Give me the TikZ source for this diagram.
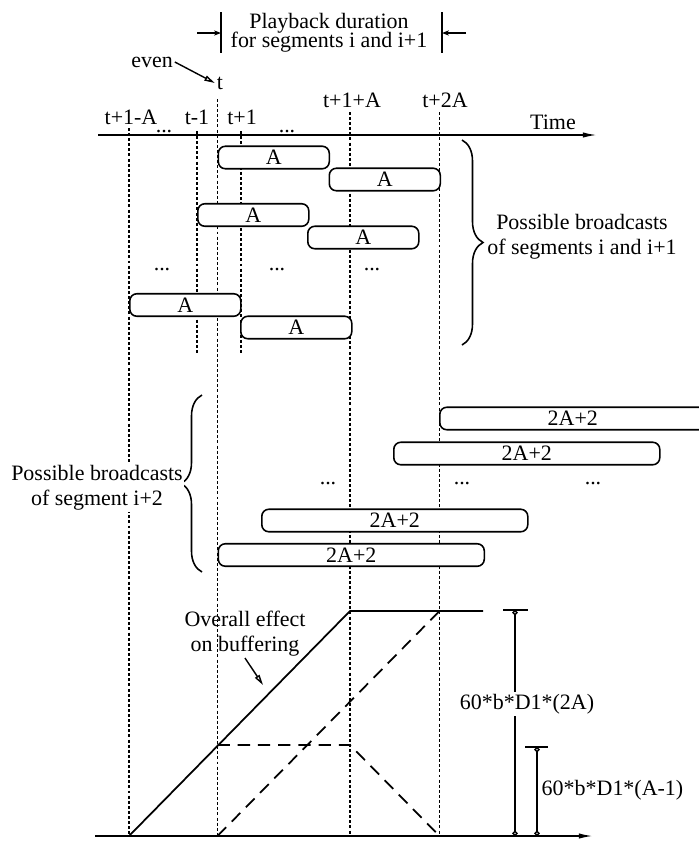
\documentclass[tikz,border=0pt]{standalone}
\usepackage{fontspec}
\setmainfont{Liberation Serif}
\usetikzlibrary{arrows.meta,decorations.pathreplacing}
\tikzset{
    seg/.style={draw, fill=white, rounded corners=4pt, line width=0.9pt,
                minimum height=0.45cm, minimum width=2.22cm, inner sep=0pt,
                anchor=west},
    longseg/.style={seg, minimum width=5.32cm},
    guide/.style={line width=0.9pt, dash pattern=on 1.7pt off 1.2pt},
    axis/.style={line width=0.9pt, -{Latex[length=8pt,width=3pt]}},
    level/.style={line width=1pt},
    partial/.style={level, dash pattern=on 7pt off 4.5pt},
    pointer/.style={line width=0.8pt, -{Triangle[open,length=6pt,width=3pt]}},
    bound/.style={line width=0.8pt, -{Stealth[length=4pt,width=3pt]}},
    dimline/.style={line width=0.8pt, {Circle[open,length=3pt]}-{Circle[open,length=3pt]}},
    note/.style={align=center, inner sep=1pt},
    brace/.style={decorate, line width=0.9pt,
                  decoration={brace, amplitude=0.42cm}},
}

\begin{document}
\begin{tikzpicture}[font=\fontsize{12.5}{14}\selectfont]
    \path[use as bounding box] (0,0) rectangle (13.98,-16.82);

    % playback window
    \node[note] (playback) at (6.58,-0.66) {Playback duration\\[-3pt]for segments i and i+1};
    \draw[line width=0.9pt] (4.42,-0.24) -- (4.42,-1.06);
    \draw[line width=0.9pt] (8.84,-0.24) -- (8.84,-1.06);
    \coordinate (pbl) at (4.42,-0.66);
    \coordinate (pbr) at (8.84,-0.66);
    \draw[bound] (3.94,-0.66) -- (pbl);
    \draw[bound] (9.32,-0.66) -- (pbr);

    % time axis and labels
    \coordinate (tstart) at (1.96,-2.70);
    \coordinate (tend) at (11.94,-2.70);
    \draw[axis] (tstart) -- (tend);
    \node (timelab) at (11.06,-2.44) {Time};
    \node[note] (even) at (3.04,-1.24) {even};
    \node[note] (tlab) at (4.40,-1.66) {t};
    \draw[pointer] (even.east) -- (tlab.west);
    \node (lab1) at (2.62,-2.34) {t+1-A};
    \node[anchor=base] (dots1) at (3.28,-2.64) {...};
    \node (lab2) at (3.94,-2.34) {t-1};
    \node (lab3) at (4.84,-2.34) {t+1};
    \node[anchor=base] (dots2) at (5.74,-2.64) {...};
    \node (lab4) at (7.04,-2.00) {t+1+A};
    \node (lab5) at (8.90,-2.00) {t+2A};

    % guide lines
    \draw[guide] (2.58,-2.56) -- (2.58,-16.72);
    \draw[guide] (3.94,-2.62) -- (3.94,-7.06);
    \draw[guide] (4.35,-1.98) -- (4.35,-16.72);
    \draw[guide] (4.82,-2.62) -- (4.82,-7.06);
    \draw[guide] (7.00,-2.24) -- (7.00,-16.72);
    \draw[guide] (8.79,-2.24) -- (8.79,-16.72);

    % segments i and i+1
    \node[seg] (sa) at (4.35,-3.15) {A};
    \node[seg] (sb) at (6.57,-3.59) {A};
    \node[seg] (sc) at (3.94,-4.30) {A};
    \node[seg] (sd) at (6.14,-4.75) {A};
    \node (dots3) at (3.24,-5.40) {...};
    \node (dots4) at (5.54,-5.40) {...};
    \node (dots5) at (7.44,-5.40) {...};
    \node[seg] (se) at (2.58,-6.10) {A};
    \node[seg] (sf) at (4.80,-6.55) {A};
    \draw[brace] (9.24,-2.80) -- (9.24,-6.90);
    \node[note] (pairnote) at (11.64,-4.74) {Possible broadcasts\\of segments i and i+1};

    % segment i+2
    \begin{scope}
        \clip (0,0) rectangle (13.98,-16.82);
        \node[longseg] (la) at (8.78,-8.37) {2A+2};
    \end{scope}
    \node[longseg] (lb) at (7.86,-9.07) {2A+2};
    \node (dots6) at (6.56,-9.68) {...};
    \node (dots7) at (9.24,-9.68) {...};
    \node (dots8) at (11.86,-9.68) {...};
    \node[longseg] (lc) at (5.22,-10.41) {2A+2};
    \node[longseg] (ld) at (4.35,-11.10) {2A+2};
    \draw[brace] (4.04,-11.44) -- (4.04,-7.90);
    \node[note, fill=white] (nextnote) at (1.94,-9.76) {Possible broadcasts\\of segment i+2};

    % buffering
    \coordinate (bstart) at (1.90,-16.72);
    \coordinate (bend) at (11.86,-16.72);
    \draw[axis] (bstart) -- (bend);
    \draw[level] (2.58,-16.72) -- (7.00,-12.22) -- (9.66,-12.22);
    \draw[partial] (4.35,-16.72) -- (8.79,-12.22);
    \draw[partial] (4.35,-14.90) -- (7.00,-14.90) -- (8.79,-16.72);
    \node[note] (buffnote) at (4.90,-12.67) {Overall effect\\on buffering};
    \coordinate (buffhit) at (5.26,-13.70);
    \draw[pointer] (buffnote.south) -- (buffhit);

    % dimensions
    \draw[line width=0.8pt] (10.06,-12.20) -- (10.56,-12.20);
    \draw[dimline] (10.30,-12.20) -- (10.30,-16.72);
    \node[note, fill=white] (dimfull) at (10.54,-14.08) {60*b*D1*(2A)};
    \draw[line width=0.8pt] (10.50,-14.94) -- (10.96,-14.94);
    \draw[dimline] (10.74,-14.94) -- (10.74,-16.72);
    \node[note] (dimpart) at (12.25,-15.80) {60*b*D1*(A-1)};
\end{tikzpicture}
\end{document}
